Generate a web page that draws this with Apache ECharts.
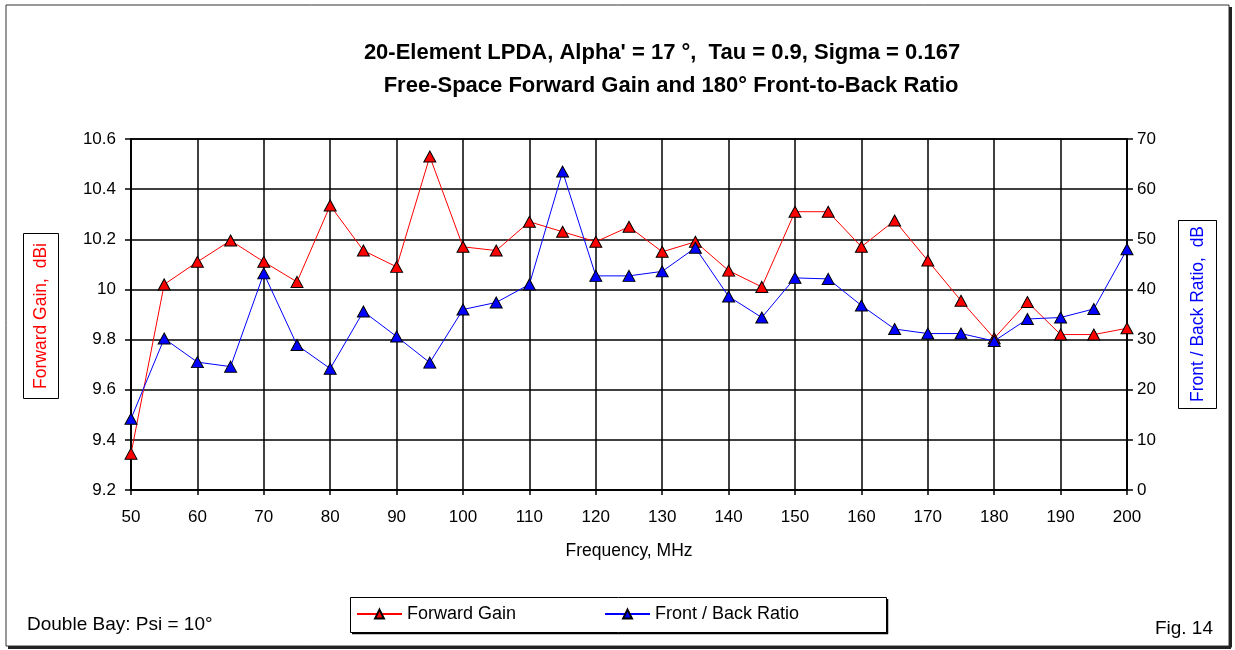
<!DOCTYPE html>
<html>
<head>
<meta charset="utf-8">
<title>20-Element LPDA – Forward Gain and Front-to-Back Ratio</title>
<script src="https://cdn.jsdelivr.net/npm/echarts@6/dist/echarts.min.js"></script>
<style>
  html, body { margin: 0; padding: 0; background: #fff; }
  #chart { width: 1235px; height: 650px; }
</style>
</head>
<body>
<div id="chart"></div>
<script>
// Frequency sweep, MHz
const frequencies = [50, 55, 60, 65, 70, 75, 80, 85, 90, 95, 100, 105, 110, 115, 120, 125,
                     130, 135, 140, 145, 150, 155, 160, 165, 170, 175, 180, 185, 190, 195, 200];

// Free-space forward gain, dBi (left axis)
const forwardGain = [9.345, 10.02, 10.11, 10.195, 10.11, 10.03, 10.335, 10.155, 10.09, 10.53,
                     10.17, 10.155, 10.27, 10.23, 10.19, 10.25, 10.15, 10.19, 10.075, 10.01,
                     10.31, 10.31, 10.17, 10.275, 10.115, 9.955, 9.805, 9.95, 9.82, 9.82, 9.845];

// 180-degree front-to-back ratio, dB (right axis)
const frontBack = [14.2, 30.2, 25.5, 24.6, 43.2, 28.9, 24.2, 35.6, 30.6, 25.4,
                   36.0, 37.4, 41.0, 63.5, 42.7, 42.7, 43.6, 48.3, 38.6, 34.4,
                   42.3, 42.1, 36.8, 32.1, 31.2, 31.2, 29.7, 34.1, 34.4, 36.1, 48.0];

const titleLines = [
  "20-Element LPDA, Alpha' = 17 \u00B0,  Tau = 0.9, Sigma = 0.167",
  " Free-Space Forward Gain and 180\u00B0 Front-to-Back Ratio"
];
const seriesNames = ['Forward Gain', 'Front / Back Ratio'];
const leftAxisTitle = 'Forward Gain,  dBi';
const rightAxisTitle = 'Front / Back Ratio,  dB';
const xAxisTitle = 'Frequency, MHz';
const noteText = 'Double Bay: Psi = 10\u00B0';
const figText = 'Fig. 14';

const FONT = "'Liberation Sans', Arial, sans-serif";

const pair = (vals) => frequencies.map((f, i) => [f, vals[i]]);

const chart = echarts.init(document.getElementById('chart'), null, { renderer: 'canvas' });

const option = {
  backgroundColor: '#ffffff',
  animation: false,
  grid: {
    left: 131, right: 108, top: 139, bottom: 160,
    show: true, borderColor: '#000', borderWidth: 1.5
  },
  legend: {
    left: 356, top: 605, padding: 0,
    itemWidth: 45, itemHeight: 11, itemGap: 88,
    textStyle: { fontFamily: FONT, fontSize: 18, color: '#000' },
    data: seriesNames
  },
  xAxis: {
    type: 'value', min: 50, max: 200, interval: 10,
    name: xAxisTitle, nameLocation: 'middle', nameGap: 52,
    nameTextStyle: { fontFamily: FONT, fontSize: 17.5, color: '#000' },
    axisLine: { lineStyle: { color: '#000', width: 1.5 } },
    axisTick: { show: true, length: 5, lineStyle: { color: '#000', width: 1.5 } },
    axisLabel: { fontFamily: FONT, fontSize: 17, color: '#000', margin: 19 },
    splitLine: { show: true, lineStyle: { color: '#000', width: 1.5 } }
  },
  yAxis: [
    {
      type: 'value', position: 'left', min: 9.2, max: 10.6, interval: 0.2,
      axisLine: { show: true, lineStyle: { color: '#000', width: 1.5 } },
      axisTick: { show: true, length: 6, lineStyle: { color: '#000', width: 1.5 } },
      axisLabel: {
        fontFamily: FONT, fontSize: 17, color: '#000', margin: 15,
        formatter: (v) => String(Math.round(v * 10) / 10)
      },
      splitLine: { show: true, lineStyle: { color: '#000', width: 1.5 } }
    },
    {
      type: 'value', position: 'right', min: 0, max: 70, interval: 10,
      axisLine: { show: true, lineStyle: { color: '#000', width: 1.5 } },
      axisTick: { show: true, length: 6, lineStyle: { color: '#000', width: 1.5 } },
      axisLabel: { fontFamily: FONT, fontSize: 17, color: '#000', margin: 10 },
      splitLine: { show: false }
    }
  ],
  series: [
    {
      name: seriesNames[0], type: 'line', yAxisIndex: 0,
      data: pair(forwardGain),
      symbol: 'triangle', symbolSize: [12, 11],
      itemStyle: { color: '#ff0000', borderColor: '#000', borderWidth: 1 },
      lineStyle: { color: '#ff0000', width: 1 },
      z: 3
    },
    {
      name: seriesNames[1], type: 'line', yAxisIndex: 1,
      data: pair(frontBack),
      symbol: 'triangle', symbolSize: [12, 11],
      itemStyle: { color: '#0000ff', borderColor: '#000', borderWidth: 1 },
      lineStyle: { color: '#0000ff', width: 1 },
      z: 4
    }
  ],
  graphic: [
    // outer chart frame with a drop shadow on the right and bottom edges
    { type: 'rect', shape: { x: 6, y: 5, width: 1223, height: 641 },
      style: { fill: 'none', stroke: '#333', lineWidth: 1 }, z: 10 },
    { type: 'line', shape: { x1: 1230.5, y1: 7, x2: 1230.5, y2: 647.5 },
      style: { stroke: '#222', lineWidth: 3 }, z: 10 },
    { type: 'line', shape: { x1: 8, y1: 647.5, x2: 1231, y2: 647.5 },
      style: { stroke: '#222', lineWidth: 3 }, z: 10 },

    // two-line title
    { type: 'text', x: 662, y: 53, z: 10,
      style: { text: titleLines[0], fill: '#000', font: 'bold 22px ' + FONT,
               textAlign: 'center', textVerticalAlign: 'middle' } },
    { type: 'text', x: 668, y: 86, z: 10,
      style: { text: titleLines[1], fill: '#000', font: 'bold 22px ' + FONT,
               textAlign: 'center', textVerticalAlign: 'middle' } },

    // left axis title in its box
    { type: 'rect', shape: { x: 23.5, y: 233.5, width: 35, height: 165 },
      style: { fill: '#fff', stroke: '#000', lineWidth: 1 }, z: 10 },
    { type: 'text', x: 41, y: 316, rotation: Math.PI / 2, z: 11,
      style: { text: leftAxisTitle, fill: '#ff0000', font: '17.5px ' + FONT,
               textAlign: 'center', textVerticalAlign: 'middle' } },

    // right axis title in its box (text runs past the top edge and is trimmed)
    { type: 'rect', shape: { x: 1178.5, y: 220.5, width: 38, height: 188 },
      style: { fill: '#fff', stroke: '#000', lineWidth: 1 }, z: 10 },
    { type: 'text', x: 1198, y: 402, rotation: Math.PI / 2, z: 11,
      style: { text: rightAxisTitle, fill: '#0000ff', font: '17.5px ' + FONT,
               textAlign: 'left', textVerticalAlign: 'middle' } },
    { type: 'rect', shape: { x: 1178, y: 180, width: 40, height: 40 },
      style: { fill: '#fff' }, z: 12 },
    { type: 'line', shape: { x1: 1178.5, y1: 220.5, x2: 1216.5, y2: 220.5 },
      style: { stroke: '#000', lineWidth: 1 }, z: 13 },

    // legend frame
    { type: 'rect', shape: { x: 350.5, y: 597.5, width: 536, height: 35 },
      style: { fill: 'none', stroke: '#000', lineWidth: 1 }, z: 10 },
    { type: 'line', shape: { x1: 887.5, y1: 599, x2: 887.5, y2: 634 },
      style: { stroke: '#000', lineWidth: 1.5 }, z: 10 },
    { type: 'line', shape: { x1: 352, y1: 633.5, x2: 888, y2: 633.5 },
      style: { stroke: '#000', lineWidth: 1.5 }, z: 10 },

    // footnotes
    { type: 'text', x: 27, y: 625, z: 10,
      style: { text: noteText, fill: '#000', font: '19px ' + FONT,
               textAlign: 'left', textVerticalAlign: 'middle' } },
    { type: 'text', x: 1213, y: 629, z: 10,
      style: { text: figText, fill: '#000', font: '19px ' + FONT,
               textAlign: 'right', textVerticalAlign: 'middle' } }
  ]
};

chart.setOption(option);
</script>
</body>
</html>
